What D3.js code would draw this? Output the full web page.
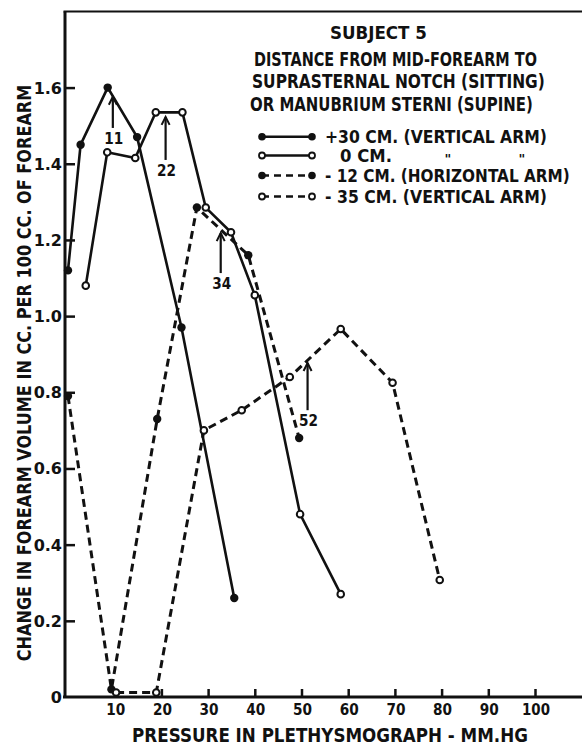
<!DOCTYPE html>
<html>
<head>
<meta charset="utf-8">
<script src="https://cdn.jsdelivr.net/npm/d3@7"></script>
<style>
  body { margin: 0; background: #fff; }
  text { font-family: "DejaVu Sans", sans-serif; font-weight: bold; fill: #111; }
</style>
</head>
<body>
<svg></svg>
<script>
// +30 cm (vertical arm) - filled dots, solid
let pressure30 = [0, 2.7, 8.5, 14.8, 24.3, 35.6];
let volume30 = [1.12, 1.45, 1.60, 1.47, 0.97, 0.26];
// 0 cm - open dots, solid
let pressure0 = [3.8, 8.4, 14.4, 18.8, 24.5, 29.5, 34.9, 40.0, 49.7, 58.4];
let volume0 = [1.08, 1.43, 1.415, 1.535, 1.535, 1.285, 1.22, 1.055, 0.48, 0.27];
// -12 cm (horizontal arm) - filled dots, dashed
let pressureM12 = [0, 9.3, 19.1, 27.6, 38.6, 49.5];
let volumeM12 = [0.79, 0.02, 0.73, 1.285, 1.16, 0.68];
// -35 cm (vertical arm) - open dots, dashed
let pressureM35 = [10.3, 18.9, 29.1, 37.2, 47.5, 58.4, 69.5, 79.6];
let volumeM35 = [0.012, 0.012, 0.70, 0.753, 0.84, 0.966, 0.825, 0.307];

let xTicks = [10, 20, 30, 40, 50, 60, 70, 80, 90, 100];
let yTicks = [0, 0.2, 0.4, 0.6, 0.8, 1.0, 1.2, 1.4, 1.6];

// arrows: label, pressure, tip value, tail value
let arrowLabels = ['11', '22', '34', '52'];
let arrowPressure = [9.6, 20.9, 32.7, 51.3];
let arrowTip = [1.576, 1.523, 1.218, 0.877];
let arrowTail = [1.494, 1.41, 1.113, 0.753];

let legendLabels = ['+30 CM. (VERTICAL ARM)', '0 CM.', '- 12 CM. (HORIZONTAL ARM)', '- 35 CM. (VERTICAL ARM)'];

let width = 582;
let height = 746;

const svg = d3.select('svg')
              .attr('width', width)
              .attr('height', height);

// text squeezed sideways to the width measured on the original lettering
let addText = (x, y, str, size, w, anchor, rot) => {
    let t = svg.append('text')
               .attr('font-size', size)
               .attr('text-anchor', anchor || 'start')
               .text(str);
    let k = w ? Math.min(1, w / t.node().getComputedTextLength()) : 1;
    t.attr('transform', 'translate(' + x + ',' + y + ')' + (rot ? ' rotate(' + rot + ')' : '') + ' scale(' + k + ',1)');
    return t;
}

let xScale = d3.scaleLinear()
               .domain([0, 110])
               .range([68, 581.7]);

let yScale = d3.scaleLinear()
               .domain([0, 1.8])
               .range([697, 11.4]);

let x0 = xScale(0) - 3;

// frame: y axis, x axis, top border
svg.append('line')
   .attr('x1', x0).attr('x2', x0)
   .attr('y1', yScale(1.8)).attr('y2', yScale(0))
   .attr('stroke', '#111').attr('stroke-width', 3);
svg.append('line')
   .attr('x1', x0 - 2).attr('x2', width)
   .attr('y1', yScale(0)).attr('y2', yScale(0))
   .attr('stroke', '#111').attr('stroke-width', 3);
svg.append('line')
   .attr('x1', x0 - 1.5).attr('x2', width)
   .attr('y1', yScale(1.8)).attr('y2', yScale(1.8))
   .attr('stroke', '#111').attr('stroke-width', 2);

let xAxis = d3.axisTop(xScale)
              .tickValues(xTicks)
              .tickSize(8)
              .tickFormat('');
svg.append('g')
   .attr('transform', 'translate(0,' + yScale(0) + ')')
   .call(xAxis)
   .call(g => g.select('.domain').remove())
   .call(g => g.selectAll('.tick line').attr('stroke', '#111').attr('stroke-width', 2.5));

xTicks.forEach(d => {
    addText(xScale(d) + 1, yScale(0) + 18, String(d), 16, d == 100 ? 28 : 19, 'middle');
});

let yAxis = d3.axisRight(yScale)
              .tickValues(yTicks.filter(d => d > 0))
              .tickSize(10)
              .tickFormat('');
svg.append('g')
   .attr('transform', 'translate(' + x0 + ',0)')
   .call(yAxis)
   .call(g => g.select('.domain').remove())
   .call(g => g.selectAll('.tick line').attr('stroke', '#111').attr('stroke-width', 2.5));

yTicks.forEach(d => {
    addText(x0 - 3, yScale(d) + 6, d == 0 ? '0' : d.toFixed(1), 16, null, 'end');
});

// axis titles
addText(330, 742, 'PRESSURE IN PLETHYSMOGRAPH - MM.HG', 20, 396, 'middle');
addText(31, 373, 'CHANGE IN FOREARM VOLUME IN CC. PER 100 CC. OF FOREARM', 20, 577, 'middle', -90);

// series
let series = [
    { p: pressure30, v: volume30, filled: true, dashed: false },
    { p: pressure0, v: volume0, filled: false, dashed: false },
    { p: pressureM12, v: volumeM12, filled: true, dashed: true },
    { p: pressureM35, v: volumeM35, filled: false, dashed: true }
];

let line = d3.line()
             .x(d => xScale(d[0]))
             .y(d => yScale(d[1]));

series.forEach(s => {
    let pts = s.p.map((d, i) => [d, s.v[i]]);
    svg.append('path')
       .datum(pts)
       .attr('d', line)
       .attr('fill', 'none')
       .attr('stroke', '#111')
       .attr('stroke-width', s.dashed ? 3 : 2.6)
       .attr('stroke-dasharray', s.dashed ? '8,5' : null);
    svg.selectAll(null)
       .data(pts)
       .enter()
       .append('circle')
       .attr('cx', d => xScale(d[0]))
       .attr('cy', d => yScale(d[1]))
       .attr('r', s.filled ? 4.2 : 3.3)
       .attr('fill', s.filled ? '#111' : '#fff')
       .attr('stroke', '#111')
       .attr('stroke-width', s.filled ? 0 : 2);
});

// arrows
arrowLabels.forEach((lab, i) => {
    let ax = xScale(arrowPressure[i]);
    let tipY = yScale(arrowTip[i]);
    let tailY = yScale(arrowTail[i]);
    svg.append('line')
       .attr('x1', ax).attr('x2', ax)
       .attr('y1', tipY).attr('y2', tailY)
       .attr('stroke', '#111').attr('stroke-width', 2.2);
    svg.append('path')
       .attr('d', 'M' + (ax - 4) + ',' + (tipY + 8) + 'L' + ax + ',' + tipY + 'L' + (ax + 4) + ',' + (tipY + 8))
       .attr('fill', 'none')
       .attr('stroke', '#111').attr('stroke-width', 2);
    addText(ax + 1, tailY + 16, lab, 15, 19, 'middle');
});

// title block
addText(330, 38.5, 'SUBJECT 5', 17, 97);

let titleLines = ['DISTANCE FROM MID-FOREARM TO', 'SUPRASTERNAL NOTCH (SITTING)', 'OR MANUBRIUM STERNI (SUPINE)'];
let titleX = [254, 252, 250];
let titleW = [283, 293, 283];
let titleY = [66, 88.3, 110.5];
titleLines.forEach((t, i) => {
    addText(titleX[i], titleY[i], t, 19.5, titleW[i]);
});

// legend
let legendY = [136.7, 155.5, 175.5, 196.5];
let legendW = [222, 52, 245, 222];
series.forEach((s, i) => {
    let g = svg.append('g');
    g.append('line')
     .attr('x1', 262).attr('x2', 312)
     .attr('y1', legendY[i]).attr('y2', legendY[i])
     .attr('stroke', '#111')
     .attr('stroke-width', 2.6)
     .attr('stroke-dasharray', s.dashed ? '7,5' : null);
    [262, 312].forEach(cx => {
        g.append('circle')
         .attr('cx', cx).attr('cy', legendY[i])
         .attr('r', s.filled ? 3.8 : 3)
         .attr('fill', s.filled ? '#111' : '#fff')
         .attr('stroke', '#111')
         .attr('stroke-width', s.filled ? 0 : 1.8);
    });
    addText(i == 1 ? 340 : 325, legendY[i] + 6, legendLabels[i], 17, legendW[i]);
});
// ditto marks on the 0 cm row
[448, 522].forEach(dx => {
    addText(dx, legendY[1] + 7, '"', 13, null, 'middle');
});
</script>
</body>
</html>
